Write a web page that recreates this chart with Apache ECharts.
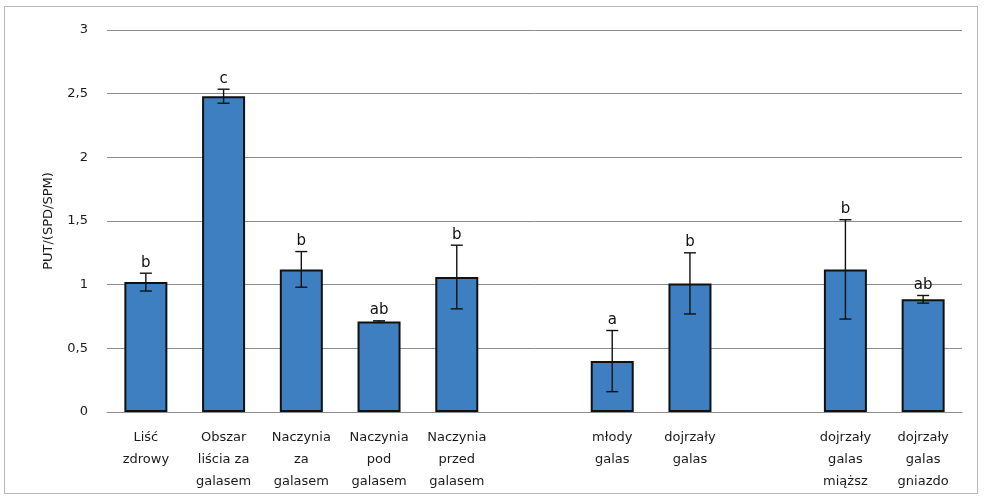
<!DOCTYPE html>
<html>
<head>
<meta charset="utf-8">
<script src="https://cdn.jsdelivr.net/npm/echarts@6/dist/echarts.min.js"></script>
<style>
  html, body { margin: 0; padding: 0; background: #ffffff; }
  #frame { position: absolute; left: 4px; top: 6px; width: 974px; height: 488px; border: 1px solid #b8b8b8; box-sizing: border-box; }
  #chart { width: 984px; height: 499px; }
</style>
</head>
<body>
<div id="frame"></div>
<div id="chart"></div>
<script>
// Sample groups (empty strings keep the gaps between the leaf, gall and mature-gall groups)
const categories = [
  'Liść\nzdrowy',
  'Obszar\nliścia za\ngalasem',
  'Naczynia\nza\ngalasem',
  'Naczynia\npod\ngalasem',
  'Naczynia\nprzed\ngalasem',
  '',
  'młody\ngalas',
  'dojrzały\ngalas',
  '',
  'dojrzały\ngalas\nmiąższ',
  'dojrzały\ngalas\ngniazdo'
];
// Mean PUT/(SPD/SPM) ratio per group
const means = [1.02, 2.48, 1.12, 0.71, 1.06, null, 0.40, 1.01, null, 1.12, 0.885];
// Standard deviation (error bar half-length)
const errors = [0.07, 0.055, 0.14, 0.006, 0.25, null, 0.24, 0.24, null, 0.39, 0.03];
// Significance letters
const letters = ['b', 'c', 'b', 'ab', 'b', '', 'a', 'b', '', 'b', 'ab'];
const yTicks = [0, 0.5, 1, 1.5, 2, 2.5, 3];

const barData = means.map(v => (v === null ? '-' : v));
const errData = means.map((v, i) => (v === null ? null : [i, v - errors[i], v + errors[i], v]))
  .filter(d => d !== null);

const textColor = '#1a1a1a';
const chart = echarts.init(document.getElementById('chart'));
chart.setOption({
  animation: false,
  grid: { left: 107, right: 22, top: 30, bottom: 87 },
  xAxis: {
    type: 'category',
    data: categories,
    axisLine: { show: true, lineStyle: { color: '#8c8c8c', width: 1 } },
    axisTick: { show: false },
    axisLabel: {
      interval: 0,
      margin: 15,
      color: textColor,
      fontFamily: 'DejaVu Sans',
      fontSize: 13,
      lineHeight: 22
    }
  },
  yAxis: {
    type: 'value',
    min: yTicks[0],
    max: yTicks[yTicks.length - 1],
    interval: 0.5,
    name: 'PUT/(SPD/SPM)',
    nameLocation: 'middle',
    nameGap: 52,
    nameTextStyle: { color: textColor, fontFamily: 'DejaVu Sans', fontSize: 13 },
    axisLine: { show: false },
    axisTick: { show: false },
    splitLine: { lineStyle: { color: '#8c8c8c', width: 1 } },
    axisLabel: {
      margin: 19,
      color: textColor,
      fontFamily: 'DejaVu Sans',
      fontSize: 13,
      formatter: v => String(v).replace('.', ',')
    }
  },
  series: [
    {
      type: 'bar',
      data: barData,
      barWidth: 43,
      itemStyle: { color: '#3d7fc0', borderColor: '#111111', borderWidth: 2 },
      z: 2
    },
    {
      type: 'custom',
      z: 3,
      data: errData,
      encode: { x: 0, y: [1, 2] },
      renderItem: function (params, api) {
        const idx = api.value(0);
        const lo = api.coord([idx, api.value(1)]);
        const hi = api.coord([idx, api.value(2)]);
        const x = lo[0];
        const cap = 6;
        const style = { stroke: '#111111', lineWidth: 1.4 };
        return {
          type: 'group',
          children: [
            { type: 'line', shape: { x1: x, y1: hi[1], x2: x, y2: lo[1] }, style },
            { type: 'line', shape: { x1: x - cap, y1: hi[1], x2: x + cap, y2: hi[1] }, style },
            { type: 'line', shape: { x1: x - cap, y1: lo[1], x2: x + cap, y2: lo[1] }, style },
            {
              type: 'text',
              style: {
                text: letters[idx],
                x: x,
                y: hi[1] - 3,
                textAlign: 'center',
                textVerticalAlign: 'bottom',
                fill: '#111111',
                font: '15px "DejaVu Sans"'
              }
            }
          ]
        };
      }
    }
  ]
});
</script>
</body>
</html>
